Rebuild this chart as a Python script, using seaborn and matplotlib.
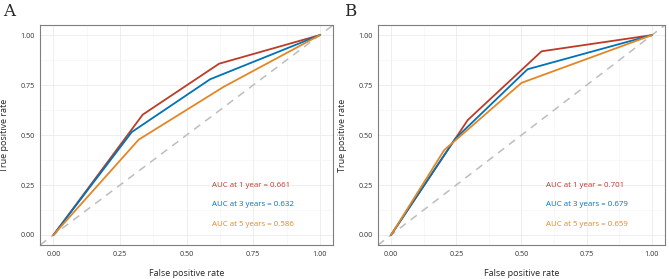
import pandas as pd
import matplotlib
matplotlib.use('Agg')
import matplotlib.pyplot as plt
import seaborn as sns

# ROC points
labels = ['1 year', '3 years', '5 years']
colors = ['#BC3C29', '#0072B5', '#E18727']

a_fpr = {'1 year': [0, 0.335, 0.622, 1], '3 years': [0, 0.294, 0.588, 1], '5 years': [0, 0.32, 0.64, 1]}
a_tpr = {'1 year': [0, 0.602, 0.857, 1], '3 years': [0, 0.515, 0.779, 1], '5 years': [0, 0.477, 0.742, 1]}
a_auc = [0.661, 0.632, 0.586]

b_fpr = {'1 year': [0, 0.294, 0.577, 1], '3 years': [0, 0.245, 0.523, 1], '5 years': [0, 0.204, 0.50, 1]}
b_tpr = {'1 year': [0, 0.575, 0.919, 1], '3 years': [0, 0.48, 0.829, 1], '5 years': [0, 0.425, 0.761, 1]}
b_auc = [0.701, 0.679, 0.659]


def make_df(fpr, tpr):
    rows = []
    for lab in labels:
        for x, y in zip(fpr[lab], tpr[lab]):
            rows.append({'fpr': x, 'tpr': y, 'time': lab})
    return pd.DataFrame(rows)


sns.set_theme(style='whitegrid')
plt.rcParams['font.family'] = ['Open Sans', 'DejaVu Sans']

fig = plt.figure(figsize=(6.69, 2.79), dpi=100)
ax1 = fig.add_axes([0.060, 0.122, 0.438, 0.788])
ax2 = fig.add_axes([0.565, 0.122, 0.429, 0.788])

ticks = [0, 0.25, 0.5, 0.75, 1]
for ax, fpr, tpr, auc in [(ax1, a_fpr, a_tpr, a_auc), (ax2, b_fpr, b_tpr, b_auc)]:
    df = make_df(fpr, tpr)
    ax.axline((0, 0), (1, 1), color='#BDBDBD', lw=1.1, ls=(0, (5, 4)), zorder=1)
    sns.lineplot(data=df, x='fpr', y='tpr', hue='time', palette=colors, sort=False,
                 estimator=None, lw=1.3, legend=False, ax=ax, zorder=3)
    ax.set_xlim(-0.05, 1.05)
    ax.set_ylim(-0.05, 1.05)
    ax.set_xticks(ticks)
    ax.set_yticks(ticks)
    ax.set_xticklabels(['0.00', '0.25', '0.50', '0.75', '1.00'])
    ax.set_yticklabels(['0.00', '0.25', '0.50', '0.75', '1.00'])
    ax.set_xticks([0.125, 0.375, 0.625, 0.875], minor=True)
    ax.set_yticks([0.125, 0.375, 0.625, 0.875], minor=True)
    ax.grid(which='major', color='#EBEBEB', lw=0.6)
    ax.grid(which='minor', color='#F4F4F4', lw=0.4)
    ax.tick_params(axis='both', which='major', labelsize=5.2, length=2, color='#333333', pad=2, labelcolor='#333333')
    ax.tick_params(which='minor', length=0)
    ax.set_facecolor('white')
    for s in ax.spines.values():
        s.set_color('#7F7F7F')
        s.set_linewidth(0.8)
    ax.set_xlabel('False positive rate', fontsize=6.5, labelpad=8)
    ax.set_ylabel('True positive rate', fontsize=6.5, labelpad=8)
    yy = [0.25, 0.15, 0.05]
    for i, lab in enumerate(labels):
        ax.text(0.595, yy[i], f'AUC at {lab} = {auc[i]:.3f}', color=colors[i], fontsize=5.7,
                ha='left', va='center')

fig.text(3 / 669, 1 - 12 / 279, 'A', fontsize=12, family='DejaVu Serif', ha='left', va='center')
fig.text(344 / 669, 1 - 12 / 279, 'B', fontsize=12, family='DejaVu Serif', ha='left', va='center')

fig.savefig('out.png', dpi=100)
